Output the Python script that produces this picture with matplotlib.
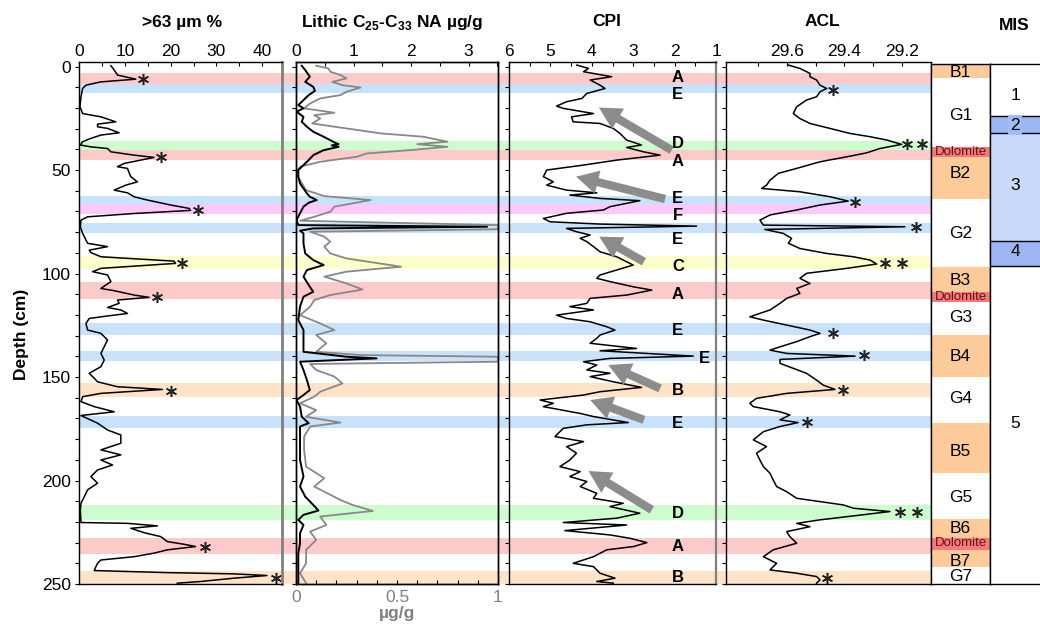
import matplotlib
matplotlib.use("Agg")
import matplotlib.pyplot as plt
from matplotlib.ticker import MultipleLocator, FixedLocator

plt.rcParams['font.family'] = ['Liberation Sans', 'DejaVu Sans']
plt.rcParams['mathtext.fontset'] = 'custom'
plt.rcParams['mathtext.rm'] = 'Liberation Sans'
plt.rcParams['mathtext.bf'] = 'Liberation Sans:bold'
plt.rcParams['axes.linewidth'] = 1.0

# ---------------- data ----------------
# >63 um %
depth_coarse = [-0.4, 1.7, 4.1, 6.1, 7.4, 9.0, 10.6, 14.6, 19.4, 22.7,
                24.3, 25.1, 26.7, 27.8, 29.1, 29.9, 32.0, 33.1, 34.7, 36.3,
                37.9, 38.8, 39.6, 41.2, 42.8, 43.9, 45.2, 46.8, 48.4, 49.2,
                51.3, 53.2, 55.7, 57.3, 59.7, 61.0, 62.9, 64.5, 66.9, 68.5,
                69.5, 71.0, 72.6, 74.2, 77.4, 80.6, 85.4, 87.0, 88.7, 89.9,
                91.9, 94.0, 95.1, 97.5, 99.1, 100.7, 103.9, 107.2, 108.3, 110.4,
                111.5, 112.8, 114.4, 116.4, 117.6, 119.3, 120.5, 121.7, 124.1, 127.3,
                128.9, 132.1, 135.4, 138.6, 141.8, 145.0, 148.2, 150.6, 152.3, 154.7,
                156.0, 157.9, 159.5, 161.9, 164.3, 166.8, 168.6, 172.3, 175.6, 178.0,
                182.0, 185.2, 187.6, 190.1, 192.5, 194.9, 198.1, 201.3, 204.5, 207.8,
                211.0, 214.2, 220.3, 220.7, 221.9, 223.1, 225.2, 227.1, 229.5, 230.8,
                231.9, 233.5, 235.1, 236.8, 238.4, 240.0, 241.6, 243.5, 244.5, 245.1,
                245.9, 247.2, 248.8, 249.6]
coarse_pct = [6.96, 7.68, 8.4, 12.39, 4.78, 1.52, 0.79, 0.43, 0.21, 0.79,
              4.78, 5.87, 8.04, 4.05, 4.05, 6.23, 8.76, 4.78, 2.6, 0.79,
              0.29, 2.6, 6.23, 6.96, 12.03, 16.37, 13.47, 9.85, 8.4, 10.58,
              10.94, 11.3, 12.75, 10.21, 7.68, 10.58, 12.03, 14.92, 19.99, 23.98,
              24.34, 12.03, 1.88, 0.43, 0.29, 0.79, 1.88, 6.23, 2.24, 2.6,
              4.78, 20.72, 21.08, 4.78, 2.97, 6.23, 6.96, 4.78, 7.68, 12.03,
              15.29, 8.4, 8.76, 6.23, 9.13, 10.58, 6.23, 2.24, 1.52, 1.88,
              4.78, 6.23, 5.5, 4.78, 5.5, 4.78, 2.24, 3.33, 4.05, 8.4,
              18.19, 4.78, 0.79, 0.43, 3.33, 7.68, 0.43, 4.05, 6.23, 9.13,
              9.13, 4.78, 9.13, 4.78, 7.32, 4.05, 2.6, 4.05, 1.88, 1.16,
              0.43, 0.29, 0.43, 10.58, 17.1, 11.3, 14.2, 17.82, 19.27, 22.9,
              25.43, 19.27, 16.37, 12.03, 4.78, 4.05, 3.69, 3.33, 19.27, 33.76,
              41.01, 33.76, 26.52, 21.45]
coarse_ast_x = [14.05, 17.82, 25.94, 22.53, 17.1, 20.14, 27.6, 43.04]
coarse_ast_d = [6.1, 43.9, 69.3, 95.1, 111.5, 156.6, 231.9, 246.9]

# Lithic C25-C33 NA (black, top scale)
depth_lith_blk = [-0.4, 1.7, 4.9, 7.4, 9.8, 11.7, 13.8, 16.2, 18.6, 20.2,
                  21.8, 24.3, 26.7, 29.1, 31.5, 33.9, 35.5, 36.8, 37.5, 38.1,
                  38.8, 40.4, 42.8, 45.2, 47.6, 50.0, 53.2, 56.5, 58.9, 61.3,
                  62.9, 64.5, 65.8, 67.7, 70.9, 74.2, 76.6, 77.4, 78.2, 79.3,
                  80.6, 85.4, 90.3, 93.5, 95.9, 98.3, 101.5, 106.4, 108.8, 111.2,
                  116.0, 122.5, 127.3, 132.1, 137.8, 140.2, 141.0, 142.6, 146.6, 151.5,
                  156.3, 158.7, 161.1, 164.3, 169.2, 172.3, 173.9, 182.0, 190.1, 198.1,
                  202.9, 207.8, 211.8, 214.5, 216.6, 219.0, 221.5, 225.5, 230.3, 235.1,
                  241.6, 246.4, 249.6]
lith_blk = [0.10, 0.16, 0.24, 0.16, 0.30, 0.33, 0.22, 0.13, 0.04, 0.13,
            0.01, 0.13, 0.10, 0.19, 0.30, 0.48, 0.59, 0.68, 0.74, 0.62,
            0.74, 0.48, 0.30, 0.22, 0.13, 0.04, 0.04, 0.07, 0.13, 0.19,
            0.24, 0.36, 0.22, 0.13, 0.07, 0.01, 0.04, 3.32, 0.30, 0.07,
            0.13, 0.13, 0.16, 0.30, 0.48, 0.19, 0.13, 0.24, 0.30, 0.13,
            0.07, 0.04, 0.13, 0.13, 0.13, 0.88, 1.40, 0.07, 0.13, 0.19,
            0.24, 0.13, 0.01, 0.07, 0.10, 0.22, 0.07, 0.07, 0.07, 0.13,
            0.07, 0.16, 0.30, 0.39, 0.13, 0.04, 0.13, 0.07, 0.07, 0.04,
            0.04, 0.04, 0.04]
# grey series (bottom scale, ug/g)
depth_lith_gray = [-0.4, 0.9, 2.5, 4.1, 5.7, 7.4, 9.0, 10.1, 12.2, 13.8,
                   15.4, 17.8, 20.2, 22.3, 23.5, 25.1, 27.5, 29.9, 32.3, 33.9,
                   36.3, 37.5, 38.8, 40.4, 42.0, 43.6, 46.0, 48.4, 51.6, 54.9,
                   59.7, 62.6, 64.5, 67.7, 70.1, 72.6, 74.5, 76.6, 78.6, 79.8,
                   82.2, 84.6, 87.0, 90.3, 92.7, 96.7, 99.1, 101.5, 104.8, 107.7,
                   110.4, 112.8, 116.0, 120.1, 124.1, 127.3, 129.7, 133.7, 137.8, 139.4,
                   140.2, 142.6, 143.7, 146.6, 149.8, 153.1, 157.1, 159.5, 162.7, 166.0,
                   169.2, 172.0, 173.9, 178.8, 185.2, 193.3, 198.9, 202.9, 205.4, 209.4,
                   211.8, 214.7, 217.4, 221.5, 224.7, 228.7, 233.5, 240.0, 244.8, 249.6]
lith_gray = [0.10, 0.16, 0.17, 0.22, 0.25, 0.18, 0.23, 0.32, 0.25, 0.22,
             0.12, 0.07, 0.04, 0.19, 0.09, 0.12, 0.08, 0.25, 0.42, 0.63,
             0.75, 0.60, 0.75, 0.56, 0.35, 0.30, 0.12, 0.02, 0.00, 0.02,
             0.05, 0.14, 0.37, 0.19, 0.17, 0.09, 0.02, 1.0, 1.0, 0.07,
             0.14, 0.17, 0.14, 0.17, 0.25, 0.52, 0.25, 0.14, 0.25, 0.33,
             0.17, 0.09, 0.07, 0.02, 0.12, 0.19, 0.10, 0.15, 0.10, 0.32,
             1.0, 1.0, 0.07, 0.10, 0.19, 0.23, 0.12, 0.09, 0.02, 0.10,
             0.05, 0.22, 0.07, 0.04, 0.04, 0.05, 0.14, 0.09, 0.14, 0.22,
             0.28, 0.38, 0.12, 0.15, 0.07, 0.10, 0.05, 0.05, 0.02, 0.05]

# CPI
depth_cpi = [-0.7, 0.9, 2.5, 4.9, 6.5, 9.0, 10.6, 13.0, 15.4, 17.0,
             19.1, 20.2, 22.7, 24.3, 26.7, 27.5, 29.9, 32.3, 35.5, 37.9,
             39.1, 41.2, 42.8, 45.2, 47.6, 50.0, 53.2, 55.7, 57.3, 59.7,
             61.0, 62.1, 63.7, 64.8, 67.7, 69.3, 70.9, 73.4, 75.0, 76.1,
             77.1, 78.2, 79.8, 81.4, 83.0, 84.6, 87.0, 89.5, 91.9, 94.3,
             95.9, 98.3, 100.7, 102.3, 103.9, 106.4, 108.0, 110.4, 112.0, 114.4,
             116.0, 117.6, 120.1, 121.7, 123.3, 125.7, 127.3, 129.7, 131.3, 133.7,
             136.2, 137.3, 139.9, 141.0, 142.6, 144.2, 146.6, 148.2, 149.8, 152.3,
             155.0, 157.1, 158.7, 161.1, 162.7, 164.3, 167.6, 169.1, 172.0, 173.1,
             174.8, 178.8, 181.2, 183.6, 186.8, 190.1, 193.3, 195.7, 198.1, 200.5,
             202.9, 206.2, 208.6, 211.0, 212.6, 215.8, 218.2, 220.3, 221.5, 224.2,
             226.3, 227.9, 230.0, 231.9, 233.5, 236.8, 240.0, 241.6, 244.8, 247.2,
             248.8, 249.6]
cpi = [4.36, 4.08, 4.20, 3.52, 4.04, 3.80, 3.68, 4.12, 4.24, 4.61,
       4.85, 4.69, 3.96, 4.49, 4.45, 3.80, 3.48, 3.32, 3.16, 2.80,
       3.16, 2.75, 2.35, 3.40, 4.20, 5.09, 5.17, 4.93, 5.09, 4.61,
       3.88, 4.53, 3.80, 2.84, 3.56, 3.72, 4.61, 5.17, 5.01, 3.80,
       1.47, 4.61, 4.37, 4.04, 4.28, 4.12, 3.96, 3.80, 3.40, 3.16,
       3.00, 3.40, 3.80, 3.88, 3.56, 3.00, 2.55, 3.16, 4.04, 4.12,
       4.53, 3.96, 4.85, 4.61, 4.04, 3.64, 3.44, 3.80, 3.88, 4.04,
       2.92, 3.80, 1.55, 3.56, 4.20, 3.88, 4.12, 3.56, 4.04, 3.48,
       2.80, 3.80, 4.20, 5.25, 4.93, 5.17, 4.28, 3.96, 3.12, 4.12,
       4.69, 4.89, 4.20, 4.61, 4.37, 4.53, 4.77, 4.28, 4.53, 4.12,
       4.28, 3.88, 3.96, 3.24, 3.56, 2.84, 3.40, 4.69, 3.16, 4.65,
       3.56, 3.08, 2.67, 2.99, 3.64, 3.96, 4.45, 3.96, 3.80, 3.44,
       3.88, 3.48]
cpi_letters = ['A', 'E', 'D', 'A', 'E', 'F', 'E', 'C', 'A', 'E', 'E', 'B', 'E', 'D', 'A', 'B']
cpi_letter_d = [5.4, 13.5, 37.1, 46.0, 63.7, 71.8, 83.5, 96.4, 110.1, 127.3, 141.0, 156.6,
                172.3, 216.1, 231.9, 246.9]
cpi_letter_x = [1.92, 1.92, 1.92, 1.92, 1.92, 1.92, 1.92, 1.92, 1.92, 1.92, 1.27, 1.92,
                1.92, 1.92, 1.92, 1.92]
# grey trend arrows: tail (cpi, depth) -> head (cpi, depth)
arrow_tail_x = [2.07, 2.23, 2.74, 2.35, 2.74, 2.55]
arrow_tail_d = [40.4, 64.0, 94.3, 155.5, 170.7, 214.2]
arrow_head_x = [3.83, 4.38, 3.82, 3.60, 4.04, 4.08]
arrow_head_d = [19.8, 53.2, 82.2, 144.2, 161.1, 195.4]

# ACL
depth_acl = [-0.7, 0.9, 3.3, 4.9, 6.5, 9.0, 10.6, 12.2, 14.6, 16.2,
             19.4, 22.7, 25.1, 27.5, 29.9, 32.3, 33.9, 35.5, 37.6, 39.6,
             41.7, 43.6, 46.0, 49.2, 51.6, 54.9, 57.3, 58.9, 60.5, 62.9,
             65.0,
             66.9, 69.3, 71.7, 74.2, 76.6, 77.4, 78.7, 80.6, 83.0, 85.4,
             87.9, 90.3, 91.9, 93.5, 95.4, 97.5, 99.9, 102.3, 104.8, 107.2,
             109.6, 112.0, 114.4, 117.6, 120.9, 122.5, 124.9, 127.3, 128.9, 130.5,
             132.9, 135.4, 137.0, 138.6, 139.9, 141.5, 143.4, 145.8, 148.2, 151.5,
             153.9, 156.0, 157.9, 160.3, 162.7, 164.3, 166.8,
             168.3, 170.7, 172.0, 173.9, 176.4, 180.4, 183.6, 186.8, 190.1, 193.3,
             196.5, 199.7, 202.9, 205.4, 208.6, 210.2, 211.8, 213.4, 215.0, 217.1,
             219.0, 220.7, 222.3, 224.7, 227.1, 230.3, 233.5, 236.8, 240.0, 243.2,
             244.8, 246.4, 248.0, 249.6]
acl = [29.595, 29.555, 29.52, 29.52, 29.497, 29.485, 29.462, 29.485, 29.497, 29.532,
       29.566, 29.578, 29.555, 29.52, 29.45, 29.381, 29.311, 29.253, 29.201, 29.277,
       29.323, 29.392, 29.485, 29.566, 29.63, 29.659, 29.671, 29.688, 29.555, 29.45,
       29.387,
       29.485, 29.566, 29.659, 29.694, 29.682, 29.19, 29.677, 29.613, 29.584, 29.595,
       29.555, 29.462, 29.369, 29.311, 29.288, 29.392, 29.532, 29.555, 29.52, 29.566,
       29.555, 29.601, 29.624, 29.659, 29.729, 29.682, 29.601, 29.52, 29.485, 29.52,
       29.566, 29.624, 29.659, 29.601, 29.363, 29.624, 29.624, 29.578, 29.532, 29.497,
       29.474, 29.433, 29.601, 29.706, 29.729, 29.717, 29.624,
       29.59, 29.624, 29.561, 29.624, 29.682, 29.717, 29.671, 29.706, 29.694, 29.682,
       29.659, 29.648, 29.636, 29.601, 29.566, 29.485, 29.404, 29.369, 29.242, 29.369,
       29.485, 29.566, 29.52, 29.601, 29.59, 29.566, 29.648, 29.682, 29.636, 29.659,
       29.566, 29.497, 29.485, 29.497]
acl_ast_x = [29.439, 29.184, 29.132, 29.363, 29.151, 29.259, 29.201, 29.441, 29.332,
             29.404, 29.529, 29.207, 29.149, 29.459]
acl_ast_d = [11.1, 37.6, 37.6, 65.3, 77.7, 95.1, 95.1, 128.6, 139.4, 156.3, 171.8,
             215.3, 215.3, 247.2]

# event bands
band_top = [3.3, 8.2, 36.0, 40.4, 62.6, 66.5, 75.5, 91.4, 103.9, 123.9, 137.3, 152.7,
            168.8, 211.8, 227.7, 243.7]
band_bot = [8.2, 12.7, 40.4, 45.2, 66.5, 71.3, 80.3, 97.8, 112.3, 129.7, 142.3, 159.5,
            174.4, 219.0, 235.5, 250.0]
band_kind = ['A', 'E', 'D', 'A', 'E', 'F', 'E', 'C', 'A', 'E', 'E', 'B', 'E', 'D', 'A', 'B']
band_colors = {'A': '#fdcaca', 'E': '#c9e2fb', 'D': '#cdfccd', 'F': '#fbcafb',
               'C': '#fefdcc', 'B': '#fee3c9'}

# lithologic units
unit_top = [-2.2, 5.4, 38.8, 43.9, 64.0, 96.7, 108.8, 113.6, 129.7, 149.8, 172.0,
            196.2, 218.6, 227.9, 233.5, 241.9]
unit_bot = [5.4, 38.8, 43.9, 64.0, 96.7, 108.8, 113.6, 129.7, 149.8, 172.0, 196.2,
            218.6, 227.9, 233.5, 241.9, 250.0]
unit_kind = ['B', 'G', 'D', 'B', 'G', 'B', 'D', 'G', 'B', 'G', 'B', 'G', 'B', 'D', 'B', 'G']
unit_labels = ['B1', 'G1', 'Dolomite', 'B2', 'G2', 'B3', 'Dolomite', 'G3', 'B4', 'G4',
               'B5', 'G5', 'B6', 'Dolomite', 'B7', 'G7']
unit_label_d = [2.8, 23.5, 41.2, 51.6, 80.6, 103.6, 111.5, 121.2, 140.2, 160.6,
                186.0, 208.1, 223.1, 230.3, 239.2, 246.4]
unit_colors = {'B': '#fdca99', 'G': 'white', 'D': '#f27c7c'}

# marine isotope stages
mis_top = [-2.2, 23.8, 32.3, 84.1, 96.2]
mis_bot = [23.8, 32.3, 84.1, 96.2, 250.0]
mis_colors = ['white', '#9cb6f4', '#c9d9f9', '#9cb6f4', 'white']
mis_labels = ['1', '2', '3', '4', '5']
mis_label_d = [13.8, 28.3, 57.3, 89.5, 172.7]

coarse_ticks = [0, 10, 20, 30, 40]
lith_ticks = [0, 1, 2, 3]
gray_ticks = [0, 0.5, 1]
gray_ticklabels = ['0', '0.5', '1']
cpi_ticks = [6, 5, 4, 3, 2, 1]
acl_ticks = [29.6, 29.4, 29.2]
acl_ticklabels = ['29.6', '29.4', '29.2']

# ---------------- layout ----------------
W, H = 1040.0, 631.0


def rect(x0, x1, y0=62, y1=584):
    return [x0 / W, 1 - y1 / H, (x1 - x0) / W, (y1 - y0) / H]


YLIM = (250, -2.2)
FS = 12.5
fig = plt.figure(figsize=(10.4, 6.31), dpi=100)

bg = fig.add_axes(rect(79, 931), zorder=0)
bg.set_ylim(*YLIM)
bg.set_xlim(0, 1)
bg.axis('off')
for t, b, k in zip(band_top, band_bot, band_kind):
    bg.axhspan(t, b, color=band_colors[k], lw=0)


def depth_axis(ax, labels=False):
    ax.set_facecolor('none')
    ax.set_ylim(*YLIM)
    ax.yaxis.set_major_locator(MultipleLocator(50))
    ax.yaxis.set_minor_locator(MultipleLocator(10))
    ax.tick_params(axis='y', which='both', direction='out', length=3, width=0.8,
                   labelsize=FS, pad=3, right=False, labelleft=labels)


def top_axis(ax, ticks, minor, labels=None):
    ax.xaxis.set_ticks_position('top')
    ax.xaxis.set_label_position('top')
    ax.xaxis.set_major_locator(FixedLocator(ticks))
    if labels is not None:
        ax.set_xticklabels(labels)
    ax.xaxis.set_minor_locator(FixedLocator(minor))
    ax.tick_params(axis='x', which='both', direction='in', length=3, width=0.8,
                   labelsize=FS, pad=2, bottom=False, labelbottom=False,
                   top=True, labeltop=True)


ast_kw = dict(ls='none', marker=(6, 2, 0), ms=8, mew=1.1, color='#222222', clip_on=False)

# Panel 1: >63 um %
ax1 = fig.add_axes(rect(79, 282), zorder=2)
depth_axis(ax1, labels=True)
ax1.set_xlim(0, 44.3)
top_axis(ax1, coarse_ticks, [5, 15, 25, 35])
ax1.plot(coarse_pct, depth_coarse, color='black', lw=1.1)
ax1.plot(coarse_ast_x, coarse_ast_d, **ast_kw)
ax1.spines['right'].set_color('#808080')
ax1.spines['right'].set_linewidth(2)

# Panel 2: lithic alkanes
ax2 = fig.add_axes(rect(296, 498), zorder=3)
depth_axis(ax2)
ax2.set_xlim(0, 3.51)
ax2g = ax2.twiny()
ax2g.set_zorder(2)
ax2g.set_xlim(0, 1)
ax2g.xaxis.set_ticks_position('bottom')
ax2g.xaxis.set_label_position('bottom')
ax2g.xaxis.set_major_locator(FixedLocator(gray_ticks))
ax2g.set_xticklabels(gray_ticklabels)
ax2g.xaxis.set_minor_locator(MultipleLocator(0.1))
ax2g.tick_params(axis='x', which='both', direction='in', length=3, width=0.8,
                 labelsize=FS, labelcolor='#808080', pad=4, top=False, labeltop=False,
                 bottom=True, labelbottom=True)
ax2g.set_xlabel('µg/g', color='#808080', fontweight='bold', fontsize=FS, labelpad=1)
top_axis(ax2, lith_ticks, [0.5, 1.5, 2.5, 3.5])
ax2g.plot(lith_gray, depth_lith_gray, color='#888888', lw=1.3)
ax2.plot(lith_blk, depth_lith_blk, color='black', lw=1.4)

# Panel 3: CPI
ax3 = fig.add_axes(rect(509, 716), zorder=2)
depth_axis(ax3)
ax3.set_xlim(6, 1)
top_axis(ax3, cpi_ticks, [5.5, 4.5, 3.5, 2.5, 1.5])
ax3.plot(cpi, depth_cpi, color='black', lw=1.1)
ax3.spines['right'].set_color('#808080')
ax3.spines['right'].set_linewidth(1.6)
for hx, hd, tx, td in zip(arrow_head_x, arrow_head_d, arrow_tail_x, arrow_tail_d):
    ax3.annotate('', xy=(hx, hd), xytext=(tx, td),
                 arrowprops=dict(arrowstyle='simple,head_length=1.6,head_width=1.7,tail_width=0.6',
                                 mutation_scale=10, color='#8c8c8c', lw=0,
                                 shrinkA=0, shrinkB=0))
for lab, x, d in zip(cpi_letters, cpi_letter_x, cpi_letter_d):
    ax3.text(x, d, lab, ha='center', va='center', fontsize=12, fontweight='bold')

# Panel 4: ACL
ax4 = fig.add_axes(rect(726, 931), zorder=2)
depth_axis(ax4)
ax4.set_xlim(29.812, 29.099)
top_axis(ax4, acl_ticks, [29.7, 29.5, 29.3], acl_ticklabels)
ax4.plot(acl, depth_acl, color='black', lw=1.1)
ax4.plot(acl_ast_x, acl_ast_d, **ast_kw)

# Panel 5: units
ax5 = fig.add_axes(rect(931, 990, 64, 584), zorder=2)
ax5.set_ylim(250, -1.2)
ax5.set_xlim(0, 1)
ax5.set_xticks([])
ax5.set_yticks([])
for t, b, k in zip(unit_top, unit_bot, unit_kind):
    ax5.axhspan(t, b, color=unit_colors[k], lw=0)
for lab, d in zip(unit_labels, unit_label_d):
    if lab == 'Dolomite':
        ax5.text(0.5, d, lab, ha='center', va='center', fontsize=9.5, color='#6e0d12')
    else:
        ax5.text(0.5, d, lab, ha='center', va='center', fontsize=FS)

# Panel 6: MIS
ax6 = fig.add_axes(rect(990, 1040, 64, 584), zorder=2)
ax6.set_ylim(250, -1.2)
ax6.set_xlim(0, 1)
ax6.set_xticks([])
ax6.set_yticks([])
ax6.spines['right'].set_visible(False)
for t, b, c in zip(mis_top, mis_bot, mis_colors):
    ax6.axhspan(t, b, color=c, lw=0)
for b in mis_bot[:-1]:
    ax6.axhline(b, color='black', lw=1)
for lab, d, c in zip(mis_labels, mis_label_d, mis_colors):
    kw = {}
    if lab == '2':
        kw = dict(bbox=dict(boxstyle='square,pad=0.15', fc='#a3bbf3', ec='none'))
    ax6.text(0.5, d, lab, ha='center', va='center', fontsize=FS, **kw)

# titles
fig.text(182 / W, 1 - 22 / H, '>63 µm %', ha='center', va='center', fontsize=FS, fontweight='bold')
fig.text(392 / W, 1 - 22 / H, r'Lithic C$_{\mathbf{25}}$-C$_{\mathbf{33}}$ NA µg/g',
         ha='center', va='center', fontsize=FS, fontweight='bold')
fig.text(607 / W, 1 - 22 / H, 'CPI', ha='center', va='center', fontsize=FS, fontweight='bold')
fig.text(822 / W, 1 - 22 / H, 'ACL', ha='center', va='center', fontsize=FS, fontweight='bold')
fig.text(1014 / W, 1 - 25 / H, 'MIS', ha='center', va='center', fontsize=FS, fontweight='bold')
fig.text(22 / W, 1 - 334 / H, 'Depth (cm)', ha='center', va='center', rotation=90,
         fontsize=FS, fontweight='bold')

fig.savefig('out.png', dpi=100)
